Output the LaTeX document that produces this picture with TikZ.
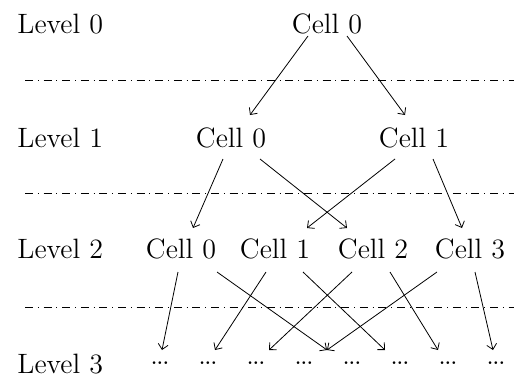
\documentclass[tikz,border=0pt]{standalone}
\usetikzlibrary{arrows.meta,calc}
\begin{document}
\begin{tikzpicture}[x=0.5pt,y=-0.5pt,
  lbl/.style={anchor=base west,inner sep=0pt,font=\fontsize{14}{16}\selectfont},
  cell/.style={anchor=base,inner sep=0pt,font=\fontsize{14}{16}\selectfont},
  dotsnode/.style={anchor=center,inner sep=0pt,font=\fontsize{14}{16}\selectfont},
  sep/.style={line width=0.4pt,dash pattern=on 4pt off 2.4pt on 0.5pt off 2.4pt},
  arr/.style={line width=0.4pt,-{Straight Barb[length=2.6pt,width=5pt]}}]
\useasboundingbox (0,0) rectangle (514,380);

% level labels
\node[lbl] (lab0) at (17,33)  {Level 0};
\node[lbl] (lab1) at (17,147) {Level 1};
\node[lbl] (lab2) at (17,258) {Level 2};
\node[lbl] (lab3) at (17,373) {Level 3};

% level separators
\coordinate (s0a) at (25,80);  \coordinate (s0b) at (514,80);
\coordinate (s1a) at (25,193); \coordinate (s1b) at (514,193);
\coordinate (s2a) at (25,307); \coordinate (s2b) at (514,307);
\draw[sep] (s0a) -- (s0b);
\draw[sep] (s1a) -- (s1b);
\draw[sep] (s2a) -- (s2b);

% cells
\node[cell] (c00) at (327,33) {Cell 0};
\node[cell] (c10) at (231,147) {Cell 0};
\node[cell] (c11) at (414,147) {Cell 1};
\node[cell] (c20) at (181,258) {Cell 0};
\node[cell] (c21) at (275,258) {Cell 1};
\node[cell] (c22) at (373,258) {Cell 2};
\node[cell] (c23) at (470,258) {Cell 3};

% level 3 placeholders
\foreach \i in {0,...,7}
  \node[dotsnode] (d\i) at ({160+48*\i},363) {.\kern-0.9pt.\kern-0.9pt.};

% level 3 arrow targets
\foreach \i/\x in {0/162,1/215,2/269,3/327,4/385,5/438,6/493}
  \coordinate (t\i) at (\x,350);

% level 0 -> level 1
\draw[arr] ($(c00.base)+(-19,3)$) -- ($(c10.base)+(19,-32)$);
\draw[arr] ($(c00.base)+(20,3)$)  -- ($(c11.base)+(-9,-32)$);

% level 1 -> level 2
\draw[arr] ($(c10.base)+(-8,12)$) -- ($(c20.base)+(12,-30)$);
\draw[arr] ($(c10.base)+(29,12)$) -- ($(c22.base)+(-26,-30)$);
\draw[arr] ($(c11.base)+(-19,12)$) -- ($(c21.base)+(32,-30)$);
\draw[arr] ($(c11.base)+(19,12)$) -- ($(c23.base)+(-8,-30)$);

% level 2 -> level 3
\draw[arr] ($(c20.base)+(-3,14)$) -- (t0);
\draw[arr] ($(c20.base)+(36,14)$) -- (t3);
\draw[arr] ($(c21.base)+(-9,14)$) -- (t1);
\draw[arr] ($(c21.base)+(28,14)$) -- (t4);
\draw[arr] ($(c22.base)+(-21,14)$) -- (t2);
\draw[arr] ($(c22.base)+(17,14)$) -- (t5);
\draw[arr] ($(c23.base)+(-33,14)$) -- (t3);
\draw[arr] ($(c23.base)+(5,14)$) -- (t6);
\end{tikzpicture}
\end{document}
